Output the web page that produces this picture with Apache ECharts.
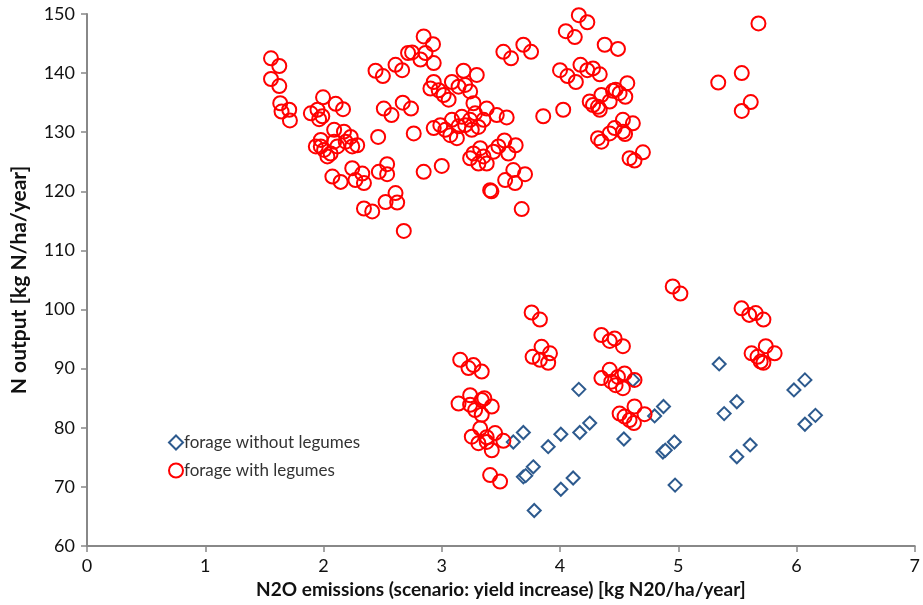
<!DOCTYPE html>
<html>
<head>
<meta charset="utf-8">
<script src="https://cdn.jsdelivr.net/npm/echarts@6/dist/echarts.min.js"></script>
<style>html,body{margin:0;padding:0;background:#fff}#c{width:923px;height:605px}</style>
</head>
<body>
<div id="c"></div>
<script>
const seriesNames = ['forage without legumes', 'forage with legumes'];
const xTicks = [0, 1, 2, 3, 4, 5, 6, 7];
const yTicks = [60, 70, 80, 90, 100, 110, 120, 130, 140, 150];

const withoutLegumes = [
  [5.346,90.8],[6.071,88.1],[5.978,86.4],[5.495,84.4],[5.388,82.4],[6.16,82.1],[6.071,80.6],
  [5.608,77.1],[5.495,75.1],[4.967,77.6],[4.87,75.9],[4.89,76.2],[4.973,70.3],[4.875,83.6],
  [4.80,82.0],[4.159,86.5],[4.616,88.1],[4.251,80.8],[4.167,79.2],[4.007,78.9],[3.9,76.8],
  [4.54,78.1],[3.69,79.2],[3.605,77.6],[3.774,73.4],[3.69,71.7],[3.71,71.9],[4.111,71.5],
  [4.007,69.6],[3.782,66.0]
];

const withLegumes = [
  // upper left group
  [1.556,142.5],[1.626,141.2],[1.556,139.0],[1.626,137.8],[1.634,134.9],[1.645,133.5],[1.71,133.8],
  [1.716,132.0],[1.996,135.9],[1.893,133.2],[1.949,133.8],[1.99,132.7],[1.963,132.2],[2.103,134.8],
  [2.165,133.9],[2.462,129.2],[2.44,140.4],[2.502,139.5],[2.609,141.4],[2.665,140.5],[2.715,143.4],
  [2.51,134.0],[2.575,132.9],[2.67,135.0],
  [1.935,127.6],[1.977,128.7],[2.005,127.0],[2.033,125.9],[2.09,130.4],[2.09,128.4],[2.117,127.6],
  [2.173,130.1],[2.188,128.4],[2.23,129.2],[2.243,127.6],[2.285,127.8],[2.06,126.4],[1.977,127.6],
  [2.075,122.5],[2.145,121.6],[2.243,123.9],[2.27,121.9],[2.328,123.0],[2.342,121.4],[2.468,123.3],
  [2.538,124.6],[2.538,122.9],[2.525,118.2],[2.609,119.7],[2.623,118.1],[2.342,117.1],[2.412,116.6],
  [2.679,113.3],
  // upper middle group
  [2.847,146.2],[2.926,144.9],[2.749,143.5],[2.82,142.3],[2.862,143.4],[2.932,141.7],[3.521,143.6],
  [3.586,142.5],[3.69,144.8],[3.755,143.6],[3.184,140.4],[3.296,139.7],[2.932,138.5],[2.904,137.4],
  [2.974,137.1],[3.016,136.3],[3.058,135.5],[3.086,138.5],[3.142,137.7],[3.198,138.0],[3.24,136.9],
  [2.74,134.0],[2.763,129.8],[2.847,123.3],[3.0,124.3],[2.932,130.7],[2.988,131.2],[3.03,130.4],
  [3.072,129.5],[3.128,129.0],[3.086,132.1],[3.17,132.6],[3.198,131.2],[3.24,132.1],[3.268,134.9],
  [3.282,133.2],[3.31,130.9],[3.353,132.1],[3.38,134.0],[3.465,132.9],[3.549,132.5],[3.254,130.4],
  [3.142,131.0],[3.268,126.4],[3.325,127.3],[3.353,125.9],[3.38,124.7],[3.31,124.7],[3.24,125.6],
  [3.437,126.7],[3.479,127.6],[3.53,128.6],[3.563,126.4],[3.625,127.8],[3.605,123.6],[3.704,122.9],
  [3.536,121.9],[3.62,121.4],[3.409,120.2],[3.42,120.0],[3.676,117.0],[3.858,132.7],
  // upper right group
  [4.159,149.8],[4.231,148.6],[4.049,147.1],[4.125,146.1],[4.378,144.8],[4.49,144.1],[4.0,140.5],
  [4.063,139.5],[4.134,138.5],[4.173,141.4],[4.231,140.5],[4.279,140.8],[4.336,139.8],[4.569,138.3],
  [4.448,137.0],[4.47,137.2],[4.504,136.6],[4.552,136.0],[4.251,135.2],[4.279,134.6],[4.321,134.3],
  [4.35,136.3],[4.42,135.2],[4.336,133.8],[4.027,133.8],[4.321,129.0],[4.35,128.4],[4.42,129.8],
  [4.462,130.7],[4.532,132.1],[4.616,131.5],[4.532,130.1],[4.55,129.7],[4.588,125.6],[4.63,125.2],
  [4.701,126.6],
  [5.678,148.4],[5.537,140.0],[5.338,138.4],[5.613,135.1],[5.537,133.6],
  // lower groups
  [3.76,99.5],[3.83,98.3],[3.844,93.7],[3.768,92.0],[3.915,92.6],[3.83,91.5],[3.9,91.0],
  [3.156,91.5],[3.226,90.1],[3.268,90.6],[3.338,89.5],[3.142,84.1],[3.24,85.5],[3.24,83.9],
  [3.282,83.0],[3.338,84.7],[3.36,85.0],[3.338,82.2],[3.423,83.6],[3.254,78.5],[3.325,79.9],
  [3.31,77.4],[3.38,77.6],[3.38,78.4],[3.451,79.1],[3.521,77.8],[3.423,76.2],[3.409,72.0],
  [3.493,70.9],
  [4.953,103.9],[5.018,102.7],[4.35,95.7],[4.42,94.7],[4.462,95.1],[4.532,93.8],[4.35,88.4],
  [4.42,89.8],[4.434,87.8],[4.49,88.6],[4.546,89.2],[4.532,86.7],[4.63,88.1],[4.47,87.2],
  [4.504,82.4],[4.546,81.9],[4.588,81.3],[4.63,83.6],[4.625,80.8],[4.715,82.3],
  [5.535,100.2],[5.6,99.1],[5.655,99.4],[5.72,98.3],[5.62,92.6],[5.67,92.0],[5.74,93.8],
  [5.815,92.6],[5.697,91.2],[5.72,91.0]
];

const font = 'Lato, "Open Sans", sans-serif';
const axisColor = '#888888';
const chart = echarts.init(document.getElementById('c'), null, {renderer: 'canvas'});
chart.setOption({
  animation: false,
  backgroundColor: '#ffffff',
  grid: {left: 87, right: 5, top: 14, bottom: 59, containLabel: false},
  legend: {
    orient: 'vertical',
    left: 163, top: 429,
    itemGap: 11,
    itemWidth: 14, itemHeight: 14,
    textStyle: {fontFamily: font, fontSize: 17, color: '#333333', padding: [0,0,0,-4]},
    data: seriesNames
  },
  xAxis: {
    type: 'value', min: xTicks[0], max: xTicks[xTicks.length-1], interval: 1,
    name: 'N2O emissions (scenario: yield increase) [kg N20/ha/year]',
    nameLocation: 'middle', nameGap: 33,
    nameTextStyle: {fontFamily: font, fontSize: 19, fontWeight: 'bold', color: '#111'},
    axisLine: {show: true, onZero: false, lineStyle: {color: axisColor, width: 2}},
    axisTick: {show: true, length: 6, lineStyle: {color: axisColor, width: 1.5}},
    axisLabel: {fontFamily: font, fontSize: 18, color: '#111', margin: 11},
    splitLine: {show: false}
  },
  yAxis: {
    type: 'value', min: yTicks[0], max: yTicks[yTicks.length-1], interval: 10,
    name: 'N output [kg N/ha/year]',
    nameLocation: 'middle', nameGap: 57, nameRotate: 90,
    nameTextStyle: {fontFamily: font, fontSize: 21, fontWeight: 'bold', color: '#111'},
    axisLine: {show: true, onZero: false, lineStyle: {color: axisColor, width: 2}},
    axisTick: {show: true, length: 6, lineStyle: {color: axisColor, width: 1.5}},
    axisLabel: {fontFamily: font, fontSize: 18, color: '#111', margin: 12},
    splitLine: {show: false}
  },
  series: [
    {
      name: seriesNames[0], type: 'scatter', data: withoutLegumes,
      symbol: 'diamond', symbolSize: 13,
      itemStyle: {color: '#ffffff', borderColor: '#2d5a8e', borderWidth: 2, opacity: 1}
    },
    {
      name: seriesNames[1], type: 'scatter', data: withLegumes,
      symbol: 'circle', symbolSize: 14,
      itemStyle: {color: 'rgba(255,255,255,0)', borderColor: '#ff0000', borderWidth: 2, opacity: 1}
    }
  ]
});
</script>
</body>
</html>
